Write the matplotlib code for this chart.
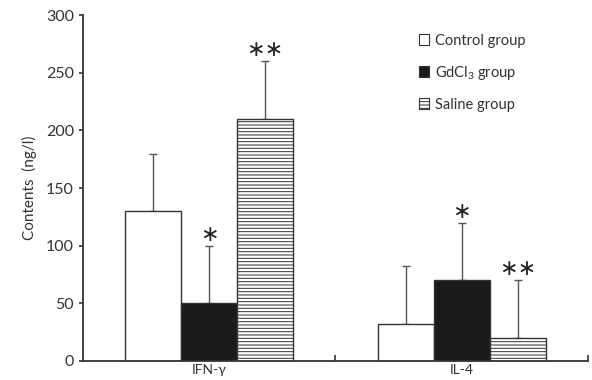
import matplotlib
matplotlib.use("Agg")
import matplotlib.pyplot as plt
import numpy as np

categories = ["IFN-γ", "IL-4"]
groups = ["Control group", "GdCl$_3$ group", "Saline group"]
means = {
    "Control group": [130, 32],
    "GdCl$_3$ group": [50, 70],
    "Saline group": [210, 20],
}
errors = {
    "Control group": [50, 50],
    "GdCl$_3$ group": [50, 50],
    "Saline group": [50, 50],
}
stars = {
    "Control group": ["", ""],
    "GdCl$_3$ group": ["*", "*"],
    "Saline group": ["**", "**"],
}

plt.rcParams['font.family'] = ['Lato', 'DejaVu Sans']
plt.rcParams['mathtext.fontset'] = 'custom'
plt.rcParams['mathtext.rm'] = 'Lato'
plt.rcParams['mathtext.default'] = 'regular'
plt.rcParams['hatch.linewidth'] = 0.7

fig = plt.figure(figsize=(5.92, 3.80), dpi=100)
ax = fig.add_axes([0.140, 0.05, 0.853, 0.91])

faces = ["white", "#1a1a1a", "white"]
hatches = [None, None, "-----"]
width = 0.222
x = np.arange(len(categories)) + 0.5

for i, g in enumerate(groups):
    pos = x + (i - 1) * width
    ax.bar(pos, means[g], width, color=faces[i], edgecolor="#333333",
           hatch=hatches[i], linewidth=1.0, label=g, zorder=2)
    ax.errorbar(pos, means[g], yerr=[np.zeros(len(pos)), errors[g]],
                fmt="none", ecolor="#555555", elinewidth=1.0, capsize=3,
                capthick=1.0, zorder=1)
    for p, m, e, s in zip(pos, means[g], errors[g], stars[g]):
        if s:
            ax.text(p, m + e + 1, s.replace("*", "∗"), ha="center", va="bottom",
                    fontsize=16, color="#222222", family="DejaVu Sans")

ax.set_xlim(0, 2)
ax.set_ylim(0, 300)
ax.set_yticks(range(0, 301, 50))
ax.set_xticks(x)
ax.set_xticklabels(categories, fontsize=10)
ax.tick_params(axis="x", length=0, pad=2, colors="#333333")
ax.set_xticks([1, 2], minor=True)
ax.tick_params(axis="x", which="minor", direction="in", length=4, width=1.2, color="#333333")
ax.tick_params(axis="y", direction="out", length=3, width=1.2, labelsize=11.5, colors="#333333")
for s in ["top", "right"]:
    ax.spines[s].set_visible(False)
for s in ["left", "bottom"]:
    ax.spines[s].set_color("#333333")
    ax.spines[s].set_linewidth(1.3)
ax.set_ylabel("Contents  (ng/l)", fontsize=11, color="#333333", labelpad=6)

leg = ax.legend(loc="upper left", bbox_to_anchor=(0.64, 0.985), frameon=False,
                fontsize=10.5, handlelength=0.7, handleheight=0.7,
                handletextpad=0.4, labelspacing=1.1)
for t in leg.get_texts():
    t.set_color("#333333")
for h in leg.legend_handles:
    h.set_linewidth(0.8)

fig.savefig("out.png", dpi=100)
